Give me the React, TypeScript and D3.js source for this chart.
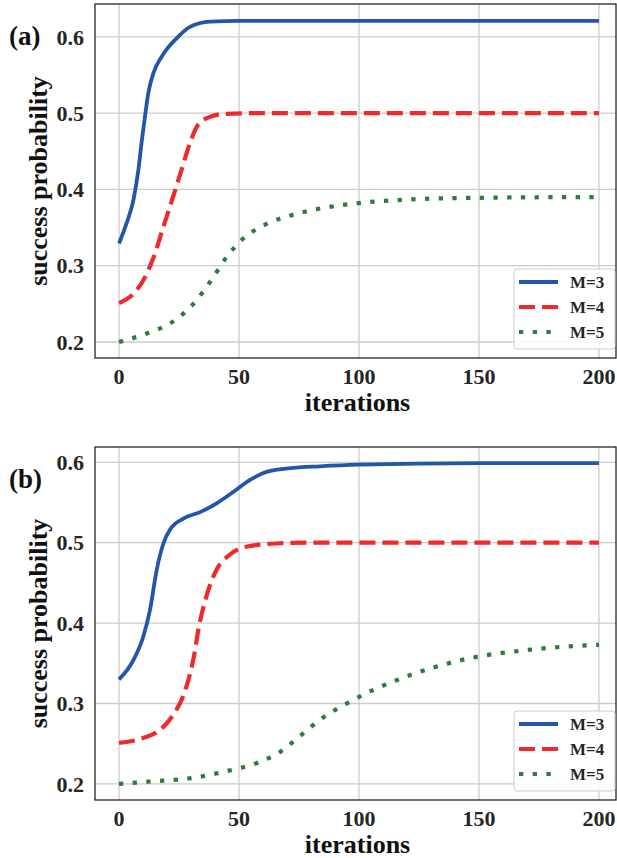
import React from 'react'
import * as d3 from 'd3'

// iterations / success probability
const xTicks = [0, 50, 100, 150, 200]

const aM3 = [[0, 0.329], [3.2, 0.356], [6, 0.386], [8.1, 0.426], [9.4, 0.461], [10.8, 0.495], [12.2, 0.526], [14.3, 0.552], [17.8, 0.574], [24, 0.598], [29.6, 0.613], [37.9, 0.620], [50, 0.621], [100, 0.621], [200, 0.621]]
const aM4 = [[0, 0.251], [7.4, 0.268], [11.5, 0.289], [14.3, 0.310], [18.5, 0.351], [22.6, 0.391], [26.1, 0.426], [29.6, 0.461], [33, 0.485], [37.9, 0.495], [44, 0.499], [60, 0.5], [200, 0.5]]
const aM5 = [[0, 0.200], [11.5, 0.211], [22.6, 0.227], [31, 0.250], [38, 0.279], [45, 0.312], [51.9, 0.336], [61.7, 0.355], [72.8, 0.367], [83.9, 0.375], [99.7, 0.382], [122.6, 0.387], [150.4, 0.389], [200, 0.390]]

const bM3 = [[0, 0.330], [6, 0.354], [10.1, 0.383], [12.9, 0.416], [15.7, 0.466], [18.5, 0.499], [21.2, 0.516], [26.8, 0.530], [33.8, 0.538], [40.7, 0.549], [47.6, 0.563], [54.6, 0.578], [61.5, 0.588], [72.6, 0.593], [83.7, 0.595], [100, 0.597], [150, 0.599], [200, 0.599]]
const bM4 = [[0, 0.251], [10, 0.257], [17, 0.267], [22.6, 0.286], [26.7, 0.309], [30.9, 0.354], [33.6, 0.400], [36.4, 0.433], [40.6, 0.466], [46.1, 0.485], [53, 0.495], [65.6, 0.499], [80, 0.5], [200, 0.5]]
const bM5 = [[0, 0.200], [12.9, 0.203], [29.6, 0.207], [45, 0.216], [57.5, 0.226], [67.2, 0.240], [75.6, 0.260], [83.8, 0.280], [94.9, 0.300], [104.6, 0.315], [115.7, 0.329], [132.4, 0.346], [149, 0.358], [165.7, 0.365], [182.4, 0.370], [200, 0.373]]

const seriesNames = ['M=3', 'M=4', 'M=5']
const colors = ['#2356a8', '#ee2a2a', '#2e7b3f']
const dashes = ['none', '16 7', '4.3 9.4']

const panels = [
  { tag: '(a)', data: [aM3, aM4, aM5], yTicks: [0.2, 0.3, 0.4, 0.5, 0.6], yDomain: [0.179, 0.643], top: 4, bottom: 358 },
  { tag: '(b)', data: [bM3, bM4, bM5], yTicks: [0.2, 0.3, 0.4, 0.5, 0.6], yDomain: [0.180, 0.619], top: 447, bottom: 800 },
]

const font = 'Liberation Serif'
const left = 95
const right = 616

const Panel = ({ p }: { p: any }) => {
  const x = d3.scaleLinear().domain([-10, 207.1]).range([left, right])
  const y = d3.scaleLinear().domain(p.yDomain).range([p.bottom, p.top])
  const line = d3.line<number[]>()
    .x(d => x(d[0]))
    .y(d => y(d[1]))
    .curve(d3.curveMonotoneX)

  const lx = right - 102
  const ly = p.bottom - 89

  return (
    <g>
      {/* grid */}
      {xTicks.map(t => (
        <line key={'gx' + t} x1={x(t)} x2={x(t)} y1={p.top} y2={p.bottom} stroke="#cccccc" strokeWidth={1.3} />
      ))}
      {p.yTicks.map((t: number) => (
        <line key={'gy' + t} x1={left} x2={right} y1={y(t)} y2={y(t)} stroke="#cccccc" strokeWidth={1.3} />
      ))}

      {/* curves */}
      {p.data.map((d: number[][], i: number) => (
        <path key={i} d={line(d) || ''} fill="none" stroke={colors[i]} strokeWidth={i === 0 ? 3.8 : 4.2}
          strokeDasharray={dashes[i]} />
      ))}

      {/* frame */}
      <rect x={left} y={p.top} width={right - left} height={p.bottom - p.top} fill="none" stroke="#262626" strokeWidth={1.3} />

      {/* tick labels */}
      {xTicks.map(t => (
        <text key={'tx' + t} x={x(t)} y={p.bottom + 26} textAnchor="middle" fontFamily={font} fontWeight="bold" fontSize={22} fill="#262626">{t}</text>
      ))}
      {p.yTicks.map((t: number) => (
        <text key={'ty' + t} x={84} y={y(t)} dy="0.35em" textAnchor="end" fontFamily={font} fontWeight="bold" fontSize={22} fill="#262626">{d3.format('.1f')(t)}</text>
      ))}

      <text x={(left + right) / 2 + 2} y={p.bottom + 53} textAnchor="middle" fontFamily={font} fontWeight="bold" fontSize={26} fill="#111">iterations</text>
      <text transform={`translate(47,${(p.top + p.bottom) / 2}) rotate(-90)`} textAnchor="middle" fontFamily={font} fontWeight="bold" fontSize={26} fill="#111">success probability</text>
      <text x={9} y={p.top + 41} fontFamily={font} fontWeight="bold" fontSize={27} fill="#111">{p.tag}</text>

      {/* legend */}
      <rect x={lx} y={ly} width={101} height={80} rx={3} fill="#ffffff" fillOpacity={0.85} stroke="#cccccc" strokeWidth={1} />
      {seriesNames.map((n, i) => (
        <g key={n}>
          <line x1={lx + 5} x2={lx + 44} y1={ly + 13 + i * 25} y2={ly + 13 + i * 25} stroke={colors[i]} strokeWidth={i === 0 ? 3.8 : 4.2} strokeDasharray={dashes[i]} />
          <text x={lx + 56} y={ly + 13 + i * 25} dy="0.35em" fontFamily={font} fontWeight="bold" fontSize={17} fill="#262626">{n}</text>
        </g>
      ))}
    </g>
  )
}

export default function App() {
  return (
    <svg width={617} height={858} style={{ position: 'absolute', left: 0, top: 0, background: '#fff' }}>
      {panels.map(p => <Panel key={p.tag} p={p} />)}
    </svg>
  )
}
